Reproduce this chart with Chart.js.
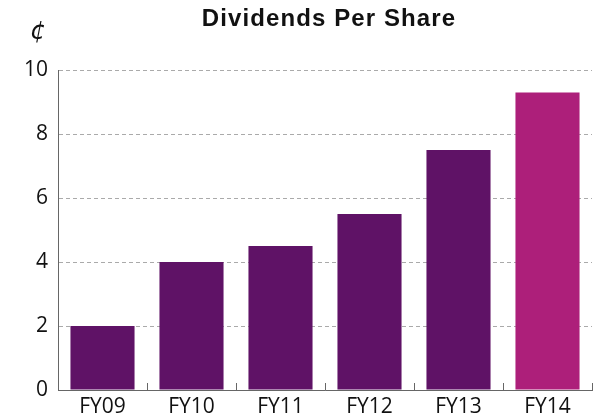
<!DOCTYPE html>
<html>
<head>
<meta charset="utf-8">
<script src="https://cdn.jsdelivr.net/npm/chart.js@4"></script>
<style>
  body { margin: 0; background: #fff; }
</style>
</head>
<body>
<canvas id="myChart" width="597" height="418"></canvas>
<script>
const years = ["FY09", "FY10", "FY11", "FY12", "FY13", "FY14"];
const dividends = [2, 4, 4.5, 5.5, 7.5, 9.3];
const barColors = ["#5f1266", "#5f1266", "#5f1266", "#5f1266", "#5f1266", "#ad1f7a"];
const yTicks = [0, 2, 4, 6, 8, 10];

const ctx = document.getElementById("myChart");

// title, cent sign and the short inward ticks on the x axis
const extras = {
  id: "extras",
  afterDraw(chart) {
    const c = chart.ctx;
    const area = chart.chartArea;
    const x = chart.scales.x;
    c.save();
    c.fillStyle = "#111";
    c.textAlign = "center";
    c.textBaseline = "middle";
    c.font = "bold 24px 'Liberation Sans', Arial, sans-serif";
    c.letterSpacing = "1.1px";
    c.fillText("Dividends Per Share", 329, 19);
    c.letterSpacing = "0px";
    c.font = "italic 25px 'DejaVu Sans', sans-serif";
    c.fillText("¢", 38, 32);
    c.strokeStyle = "#666";
    c.lineWidth = 1;
    for (let i = 1; i <= years.length; i++) {
      const px = Math.round(x.getPixelForValue(i - 0.5)) + 0.5;
      c.beginPath();
      c.moveTo(px, area.bottom);
      c.lineTo(px, area.bottom - 7);
      c.stroke();
    }
    c.restore();
  },
};

new Chart(ctx, {
  type: "bar",
  data: {
    labels: years,
    datasets: [
      {
        label: "Dividends",
        data: dividends,
        backgroundColor: barColors,
        categoryPercentage: 1,
        barPercentage: 0.72,
      },
    ],
  },
  options: {
    responsive: false,
    animation: false,
    layout: { padding: { top: 70, right: 5, left: 0, bottom: 0 } },
    plugins: {
      legend: { display: false },
      title: { display: false },
      tooltip: { enabled: false },
    },
    scales: {
      x: {
        grid: { display: false, drawTicks: false },
        border: { display: true, color: "#666", width: 1 },
        ticks: {
          color: "#111",
          padding: 4,
          font: { family: "'Open Sans', sans-serif", size: 21 },
        },
        afterFit(scale) {
          scale.height = 28;
        },
      },
      y: {
        min: 0,
        max: 10,
        afterBuildTicks(scale) {
          scale.ticks = yTicks.map((v) => ({ value: v }));
        },
        grid: {
          color: "#aaa",
          drawTicks: false,
        },
        border: { display: true, color: "#666", width: 1, dash: [4, 3] },
        ticks: {
          color: "#111",
          padding: 10,
          font: { family: "'Open Sans', sans-serif", size: 21 },
        },
        afterFit(scale) {
          scale.width = 58;
        },
      },
    },
  },
  plugins: [extras],
});
</script>
</body>
</html>
